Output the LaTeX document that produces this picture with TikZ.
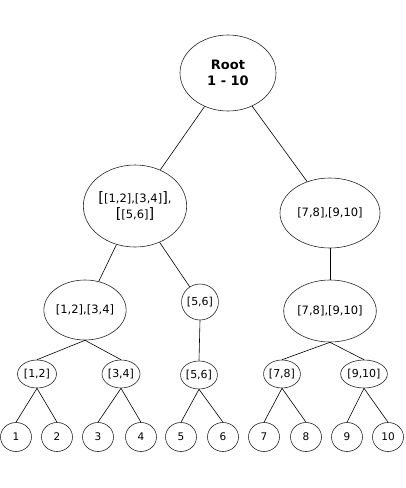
\documentclass[tikz,border=0pt]{standalone}
\usepackage{fontspec}
\setmainfont{DejaVu Sans}
\usetikzlibrary{shapes.geometric}
\begin{document}
\begin{tikzpicture}[x=1pt,y=-1pt,
  nd/.style={ellipse,draw=black!85,line width=0.6pt,fill=white,inner sep=0pt},
  edge/.style={draw=black,line width=0.6pt},
  lv/.style={font=\fontsize{11}{13}\selectfont},
  big/.style={font=\fontsize{11.5}{14}\selectfont}]
\useasboundingbox (0,0) rectangle (406,488);
% root
\node[nd,minimum width=96,minimum height=76,font=\bfseries\fontsize{13}{16}\selectfont,align=center] (root) at (228,73) {Root\\ 1 - 10};
% level 1
\node[nd,minimum width=96,minimum height=82,align=center,font=\fontsize{11.5}{16}\selectfont] (a) at (135,206) {{\Large[}[1,2],[3,4]{\Large]},\\{\Large[}[5,6]{\Large]}};
\node[nd,minimum width=100,minimum height=70,big] (b) at (330,213) {[7,8],[9,10]};
% level 2
\node[nd,minimum width=72,minimum height=60,big] (a1) at (85,310) {[1,2],[3,4]};
\node[nd,minimum width=34,minimum height=36,lv] (a2) at (200,302) {[5,6]};
\node[nd,minimum width=72,minimum height=62,big] (b1) at (330,311) {[7,8],[9,10]};
% level 3
\node[nd,minimum width=39,minimum height=28,lv] (c1) at (37,374) {[1,2]};
\node[nd,minimum width=38,minimum height=28,lv] (c2) at (121,374) {[3,4]};
\node[nd,minimum width=35,minimum height=28,lv] (c3) at (199,375) {[5,6]};
\node[nd,minimum width=36,minimum height=28,lv] (c4) at (282,374) {[7,8]};
\node[nd,minimum width=39,minimum height=28,lv] (c5) at (364,374) {[9,10]};
% leaves
\foreach \n/\x in {1/16,2/57,3/98,4/141,5/181,6/223,7/264,8/306,9/347,10/388}{
  \node[nd,minimum width=31,minimum height=29,font=\fontsize{10.5}{12}\selectfont] (l\n) at (\x,437) {\n};
}
% edges
\draw[edge] (root) -- (a);
\draw[edge] (root) -- (b);
\draw[edge] (a) -- (a1);
\draw[edge] (a) -- (a2);
\draw[edge] (b) -- (b1);
\draw[edge] (a1.south) -- (c1.north);
\draw[edge] (a1.south) -- (c2.north);
\draw[edge] (a2.south) -- (c3.north);
\draw[edge] (b1.south) -- (c4.north);
\draw[edge] (b1.south) -- (c5.north);
\draw[edge] (c1.south) -- (l1.north);
\draw[edge] (c1.south) -- (l2.north);
\draw[edge] (c2.south) -- (l3.north);
\draw[edge] (c2.south) -- (l4.north);
\draw[edge] (c3.south) -- (l5.north);
\draw[edge] (c3.south) -- (l6.north);
\draw[edge] (c4.south) -- (l7.north);
\draw[edge] (c4.south) -- (l8.north);
\draw[edge] (c5.south) -- (l9.north);
\draw[edge] (c5.south) -- (l10.north);
\end{tikzpicture}
\end{document}
